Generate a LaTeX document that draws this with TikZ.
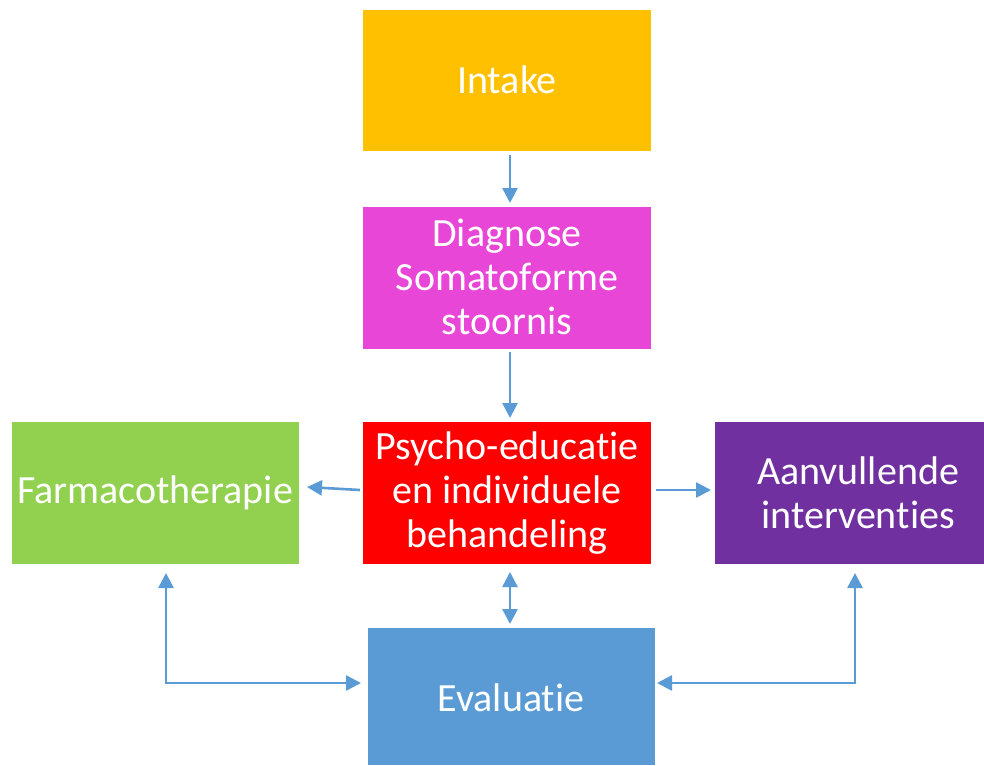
\documentclass[tikz,border=0pt]{standalone}
\usepackage{fontspec}
\setmainfont{Carlito}[Ligatures={NoCommon,NoRare}]
\usetikzlibrary{arrows.meta}
\definecolor{cIntake}{HTML}{FFC000}
\definecolor{cDiag}{HTML}{E846D6}
\definecolor{cPsy}{HTML}{FF0000}
\definecolor{cFarm}{HTML}{92D050}
\definecolor{cAanv}{HTML}{7030A0}
\definecolor{cEval}{HTML}{5B9BD5}
\definecolor{cArrow}{HTML}{5B9BD5}
\begin{document}
\begin{tikzpicture}[x=1pt,y=-1pt,
  box/.style={draw=none, inner sep=0pt, text=white, align=center,
    font=\fontsize{40}{44}\selectfont},
  conn/.style={draw=cArrow, line width=2.6pt, -{Triangle[length=15pt,width=15pt]}},
  conn2/.style={draw=cArrow, line width=2.6pt, {Triangle[length=15pt,width=15pt]}-{Triangle[length=15pt,width=15pt]}}]
\useasboundingbox (0,0) rectangle (984,765);
\fill[white] (0,0) rectangle (984,765);
% boxes
\fill[cIntake] (363,10) rectangle (651,151);
\fill[cDiag] (363,207) rectangle (651,349);
\fill[cPsy] (363,422) rectangle (651,564);
\fill[cFarm] (12,422) rectangle (299,564);
\fill[cAanv] (715,422) rectangle (984,564);
\fill[cEval] (368,628) rectangle (655,765);
\node[box] (intake) at (507,80) {Intake};
\node[box] (diag) at (507,277) {Diagnose\\Somatoforme\\stoornis};
\node[box] (psy) at (507,493) {Psycho-educatie\\en individuele\\behandeling};
\node[box] (farm) at (155,493) {Farmacotherapie};
\node[box] (aanv) at (858,493) {Aanvullende\\interventies};
\node[box] (eval) at (511,698) {Evaluatie};
% connector endpoints
\coordinate (a1s) at (510,155); \coordinate (a1e) at (510,203);
\coordinate (a2s) at (510,352); \coordinate (a2e) at (510,418);
\coordinate (l1s) at (360,490); \coordinate (l1e) at (307,487);
\coordinate (r1s) at (656,490); \coordinate (r1e) at (711,490);
\coordinate (d1s) at (510,572); \coordinate (d1e) at (510,624);
\coordinate (fl) at (166,573); \coordinate (flc) at (166,683); \coordinate (el) at (361,683);
\coordinate (ar) at (855,573); \coordinate (arc) at (855,683); \coordinate (er) at (657,683);
\draw[conn] (a1s) -- (a1e);
\draw[conn] (a2s) -- (a2e);
\draw[conn] (l1s) -- (l1e);
\draw[conn] (r1s) -- (r1e);
\draw[conn2] (d1s) -- (d1e);
\draw[conn2] (fl) -- (flc) -- (el);
\draw[conn2] (ar) -- (arc) -- (er);
\end{tikzpicture}
\end{document}
